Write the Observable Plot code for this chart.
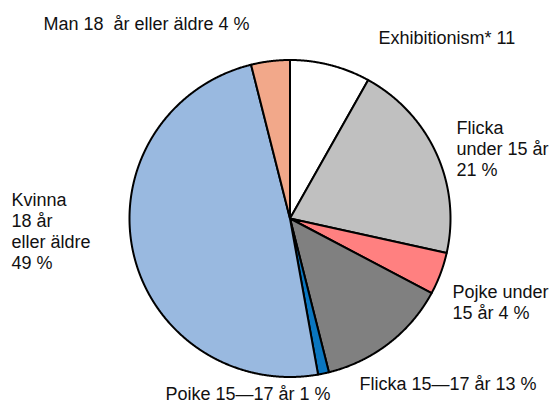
<!DOCTYPE html>
<html><head><meta charset="utf-8">
<script src="https://cdn.jsdelivr.net/npm/d3@7"></script>
<script src="https://cdn.jsdelivr.net/npm/@observablehq/plot@0.6"></script>
<style>body{margin:0;background:#fff;}</style>
</head><body><div id="chart"></div>
<script>
const categories = ["Exhibitionism*", "Flicka under 15 år", "Pojke under 15 år", "Flicka 15–17 år", "Pojke 15–17 år", "Kvinna 18 år eller äldre", "Man 18 år eller äldre"];
const shares = [8.1, 20.4, 4.3, 13.3, 1.1, 48.9, 3.9];
const sliceColors = ["#FFFFFF", "#C0C0C0", "#FF8080", "#808080", "#0A76C0", "#99B9E0", "#F2A88A"];
const labelTexts = ["Exhibitionism* 11", "Flicka\nunder 15 år\n21 %", "Pojke under\n15 år 4 %", "Flicka 15—17 år 13 %", "Poike 15—17 år 1 %", "Kvinna\n18 år\neller äldre\n49 %", "Man 18  år eller äldre 4 %"];
// label layout: pixel x of left edge, pixel y of block middle
const labelLayout = [[378, 36.5], [456, 148], [452, 301], [359, 382.5], [165, 392.5], [11, 230.5], [43, 23]];

const W = 555, H = 403;
const mL = 129, mR = 105, mT = 59.5, mB = 26.5;
const cx = mL + (W - mL - mR) / 2, rx = (W - mL - mR) / 2;
const cy = mT + (H - mT - mB) / 2, ry = (H - mT - mB) / 2;

const arcs = d3.pie().sort(null).value(d => d)(shares);
const polys = [];
arcs.forEach((a, i) => {
  const cat = categories[i];
  polys.push({category: cat, x: 0, y: 0});
  const n = Math.max(2, Math.ceil((a.endAngle - a.startAngle) / (Math.PI / 720)));
  for (let k = 0; k <= n; k++) {
    const t = a.startAngle + (a.endAngle - a.startAngle) * k / n;
    polys.push({category: cat, x: Math.sin(t), y: Math.cos(t)});
  }
});

const labels = labelTexts.map((t, i) => ({
  text: t,
  x: (labelLayout[i][0] - cx) / rx,
  y: (cy - labelLayout[i][1]) / ry
}));

const chart = Plot.plot({
  width: W, height: H,
  marginLeft: mL, marginRight: mR, marginTop: mT, marginBottom: mB,
  style: {fontFamily: "'Liberation Sans', Arial, sans-serif", background: "white", overflow: "visible"},
  x: {domain: [-1, 1], axis: null},
  y: {domain: [-1, 1], axis: null},
  color: {domain: categories, range: sliceColors},
  marks: [
    Plot.line(polys, {x: "x", y: "y", z: "category", fill: "category", stroke: "black", strokeWidth: 2, curve: "linear-closed", strokeLinejoin: "round"}),
    Plot.text(labels, {x: "x", y: "y", text: "text", textAnchor: "start", lineAnchor: "middle", fontSize: 18, lineHeight: 21 / 18, fill: "#111"})
  ]
});
document.getElementById("chart").appendChild(chart);
</script>
</body></html>
